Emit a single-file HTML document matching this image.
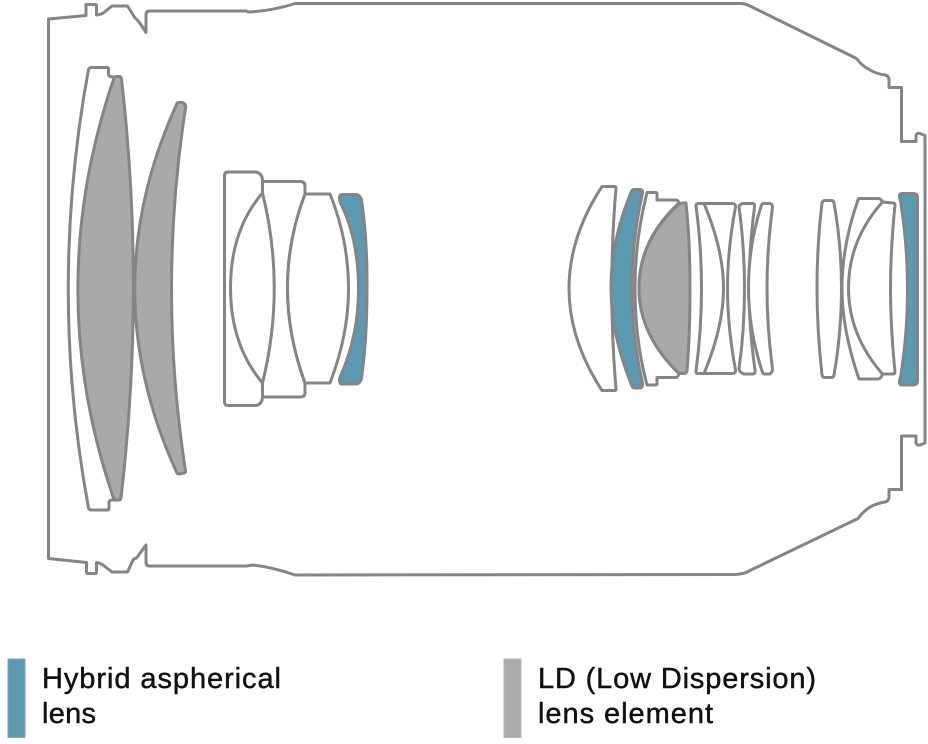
<!DOCTYPE html>
<html>
<head>
<meta charset="utf-8">
<style>
html,body{margin:0;padding:0;background:#fff;width:928px;height:744px;overflow:hidden}
svg{display:block}
path{fill:none;stroke:#858585;stroke-width:3;stroke-linejoin:round;stroke-linecap:round}
.g{fill:#a9a9a9}
.b{fill:#5a9ab3}
.w{fill:#fff}
text{font-family:"Liberation Sans",sans-serif;font-size:29px;fill:#111;stroke:#111;stroke-width:.45}
</style>
</head>
<body>
<svg width="928" height="744" viewBox="0 0 928 744" xmlns="http://www.w3.org/2000/svg">
<!-- housing -->
<path d="M48.500 19L86 15.500V4.500Q86 4.500 88 4.500H95.500Q96.500 4.500 96.500 6V15Q101 14.500 104 12.500Q108 9 112 6H127.500L135 18Q138 19.500 146 32.500V15Q146 11 149.500 11H246.500L248 12Q272 11 295 3.500H740Q745 3.500 750 6L856.500 58.500Q862 66 870 70Q877 74 885 75Q889 76 889 80V87.500H901.500V141.500H916V135.500Q917 132.500 920 133.500L925 135.500V443L920 445Q916.500 445.500 916 443V436H901.500V489.500H889V497Q889 501 885 502Q878 503 871 506.500Q864 510.500 858 518.500L750 570.500Q745 574 735 574.500Q700 575 295 575Q272 567 253 565L246.500 566H149.500Q146 566 146 562V545L136.500 558Q134 558.500 133 560L127.500 572H112Q108 569 103 565Q100 563 96.500 562.500V572Q96.500 573.500 95 573.500H88Q86.500 573.500 86.500 572V562.500L48.500 558.500Z"/>

<!-- front group -->
<path class="w" d="M88.500 69.500Q89.500 67.500 91.500 67.500H107Q108.500 67.500 108.500 69V75Q109 76.500 112.500 77L114 77Q110 290 114 500L112 500Q109 500.500 109 502V508.500Q109 510 107 510H91.500Q89 510 88.500 508Q48 289 88.500 69.500Z"/>
<path class="g" d="M114 78Q115 76.500 118 76.500H119.500Q121 76.500 121.500 79Q145.500 289 121 498Q120.500 500 119 500H115.500Q114 500 113.500 498Q42 289 114 78Z"/>
<path class="g" d="M176.500 104.500Q177 102.500 179 102.500H182Q184 103 185.500 105Q186 106 185.500 108Q157.500 289 185.500 471Q186 472.500 184 473L179 474Q177 474 176.500 472Q93 289 176.500 104.500Z"/>

<!-- group 2 -->
<path class="w" d="M224.500 176Q224.500 172 228 172H254Q262.500 172 262.500 181V193Q230.500 230 230.500 288Q230.500 345 262.500 383V396Q262.500 405.500 254 405.500H228Q224.500 405.500 224.500 402Z"/>
<path class="w" d="M262.500 193V181.500H300Q305 181.500 305 186V195Q287.500 240 287.500 288Q287.500 335 305 383V393Q305 397 300 397H262.500V383Q286 288 262.500 193Z"/>
<path class="w" d="M305 194H330Q348.500 240 348.500 289Q348.500 335 330 383H305Q287.500 335 287.500 288Q287.500 240 305 194Z"/>
<path class="b" d="M339.500 198Q339.500 194.500 342 194.500H355Q360 194.500 361.500 200Q367.500 240 367 289Q367 340 361.500 378Q360.500 384 355 384H342Q339.500 384 339.500 380Q339.500 378 341 375Q358.500 335 358.500 289Q358.500 240 341 204Q339.500 201 339.500 198Z"/>

<!-- rear group 1 -->
<path class="w" d="M602 186.500H614.500Q616 186.500 616 188Q607.500 289 616 389Q616 390.500 614.500 390.500H602Q569 340 569 288.500Q569 237 602 186.500Z"/>
<path class="w" d="M647 192.500H655.500Q657 192.500 657 194V200H676Q678 200 679 203Q639 240 639 288Q639 335 679 373.500Q678 377.500 676 377.500H657V383.500Q657 385 655.500 385H647Q635 340 635 288Q635 240 647 192.500Z"/>
<path class="b" d="M631.500 191.500Q632 189.500 634 189.500H640Q643 189.500 642.500 193Q632 240 632 288Q632 337 642.500 383Q643 388 640 388H635Q632.500 388 632 386Q611 335 611 288Q611 240 631.500 191.500Z"/>
<path class="g" d="M679 204Q683 202.500 686 203Q690 240 690 288Q690 335 687 371Q686.500 373.500 684 373.500H679Q639 335 639 288Q639 240 679 204Z"/>
<path class="w" d="M696 206Q696 203.500 698.500 203.500H732Q736 203.500 735.500 207Q727.500 250 727.500 288Q727.500 327 735.500 370Q736 373.500 732 373.500H698Q696 373.500 696 371Q701.500 330 701.500 288Q701.500 247 696 206Z"/>
<path d="M704 203.500Q723.500 250 723.500 288Q723.500 327 704 373.500"/>
<path class="w" d="M739 207Q739 205 742.500 203.500H752.500Q755 203.500 754.500 207Q749 250 749 288Q749 327 755 370Q755.500 374 753 374H743.500Q739.500 372 739 369Q744.500 330 744.500 288Q744.500 247 739 207Z"/>
<path class="w" d="M761.500 205Q762 203.500 764 203.500H769.500Q772.500 204 772.500 207Q767 250 767 288Q767 327 772.500 369Q772.500 372 770 374H764.500Q763 374 762.500 372.500Q748.500 330 748.500 288Q748.500 245 761.500 205Z"/>

<!-- rear group 2 -->
<path class="w" d="M822 203Q822.500 200.500 825 200.500H831.500Q833.500 200.500 834 203Q841.500 245 841.500 288Q841.500 332 834 375Q833.500 377.500 831.500 377.500H825Q822.500 377.500 822 375Q817 330 817 288Q817 245 822 203Z"/>
<path class="w" d="M858.500 198.500H878Q881 198.500 882.500 202L893 203Q895 203 895 205Q890.500 250 890.500 288Q890.500 327 895 372Q895 374 893 374H882.500Q881 379 878 379H859Q842 330 842 288Q842 245 858.500 198.500Z"/>
<path d="M882.500 202Q848.500 240 848.500 288Q848.500 335 882.500 374"/>
<path class="b" d="M899.500 196Q899.500 193.500 902 193.500H913.500Q917.500 193.500 917.500 198V380Q917.500 385 913.500 385H902Q899.500 385 899.500 382Q899.500 380 900.500 377Q907.500 335 907.500 288Q907.500 245 900.500 201Q899.500 198 899.500 196Z"/>

<!-- legend -->
<rect x="8" y="659" width="17" height="78.500" fill="#5a9ab3" stroke="#8ea3ab" stroke-width="1"/>
<rect x="504" y="659" width="17" height="78.500" fill="#ababab" stroke="#b5b5b5" stroke-width="1"/>
<text x="42" y="688" textLength="239" lengthAdjust="spacing">Hybrid aspherical</text>
<text x="42" y="723" textLength="54" lengthAdjust="spacing">lens</text>
<text x="538" y="688" textLength="278" lengthAdjust="spacing">LD (Low Dispersion)</text>
<text x="538" y="723" textLength="175" lengthAdjust="spacing">lens element</text>
</svg>
</body>
</html>
